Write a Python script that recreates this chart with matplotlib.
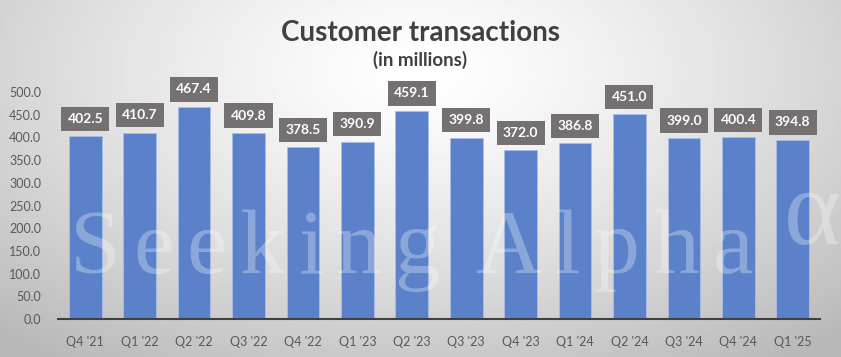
import numpy as np
import matplotlib.pyplot as plt

quarters = ["Q4 '21", "Q1 '22", "Q2 '22", "Q3 '22", "Q4 '22", "Q1 '23", "Q2 '23",
            "Q3 '23", "Q4 '23", "Q1 '24", "Q2 '24", "Q3 '24", "Q4 '24", "Q1 '25"]
transactions = [402.5, 410.7, 467.4, 409.8, 378.5, 390.9, 459.1,
                399.8, 372.0, 386.8, 451.0, 399.0, 400.4, 394.8]
yticks = np.arange(0, 501, 50)

plt.rcParams['font.family'] = ['Lato', 'DejaVu Sans']

W, H = 841, 357
fig = plt.figure(figsize=(W / 100, H / 100), dpi=100)

# radial gradient background
bg = fig.add_axes([0, 0, 1, 1], zorder=-10)
gx, gy = np.meshgrid(np.linspace(0, 1, 400), np.linspace(0, 1, 200))
r = np.sqrt(((gx - 0.5) / 0.75) ** 2 + ((gy - 0.2) / 1.0) ** 2)
shade = 1.0 - 0.28 * np.clip(r, 0, 1) ** 1.3
bg.imshow(shade, cmap='gray', vmin=0, vmax=1, aspect='auto', extent=[0, 1, 1, 0])
bg.axis('off')

ax = fig.add_axes([0.069, 0.1064, 0.906, 0.6358])
ax.patch.set_alpha(0)
x = np.arange(len(quarters))
ax.bar(x, transactions, width=0.6, color='#5a81c9', edgecolor='#a9bde6', linewidth=0.6, zorder=2)

for xi, v in zip(x, transactions):
    ax.text(xi, v + 25, f'{v:.1f}', ha='center', va='bottom', color='white',
            fontsize=10, fontweight='bold', zorder=4, clip_on=False,
            bbox=dict(boxstyle='square,pad=0.45', fc='#767171', ec='none'))

ax.set_xlim(-0.5, len(quarters) - 0.5)
ax.set_ylim(0, 500)
ax.set_yticks(yticks)
ax.set_yticklabels([f'{t:.1f}' for t in yticks])
ax.set_xticks(x)
ax.set_xticklabels(quarters)
ax.tick_params(axis='both', length=0, labelsize=9, colors='#595959')
ax.tick_params(axis='x', pad=12)
ax.tick_params(axis='y', pad=12)
for s in ['top', 'right', 'left']:
    ax.spines[s].set_visible(False)
ax.spines['bottom'].set_color('#404040')
ax.spines['bottom'].set_linewidth(1.5)

# watermark with wide letter spacing
renderer = fig.canvas.get_renderer()
wm = dict(fontsize=66, family='Liberation Serif', color='white', alpha=0.3,
          ha='left', va='baseline', zorder=3)


def spaced_word(word, x0, x1, base):
    arts = [fig.text(0, base / H, ch, **wm) for ch in word]
    widths = [a.get_window_extent(renderer).width for a in arts]
    gap = (x1 - x0 - sum(widths)) / (len(word) - 1)
    pos = x0
    for a, w in zip(arts, widths):
        a.set_x(pos / W)
        pos += w + gap


spaced_word('Seeking', 70, 440, H - 273)
spaced_word('Alpha', 475, 753, H - 273)
fig.text(812 / W, 1 - 218 / H, '\u03b1', fontsize=78, family='Liberation Serif',
         color='white', alpha=0.3, ha='center', va='center', zorder=3)

fig.text(0.5, 1 - 33 / H, 'Customer transactions', ha='center', va='center',
         fontsize=20, fontweight='bold', color='#404040')
fig.text(0.5, 1 - 60 / H, '(in millions)', ha='center', va='center',
         fontsize=13.5, fontweight='bold', color='#404040')

fig.savefig('out.png', dpi=100)
